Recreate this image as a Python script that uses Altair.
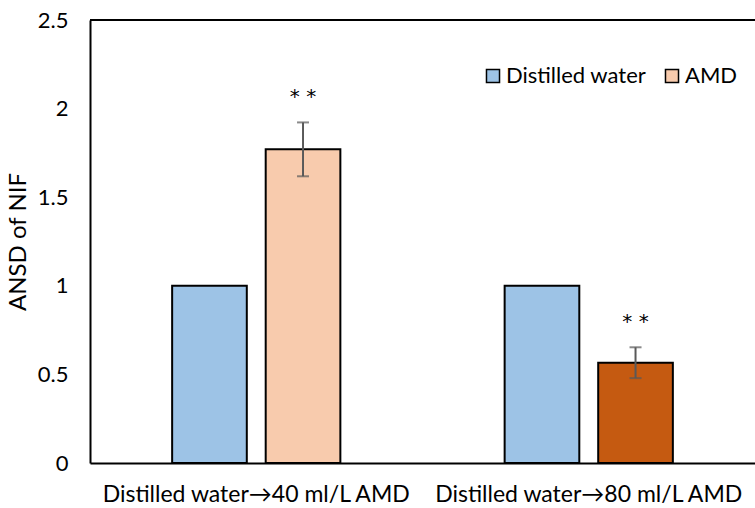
import altair as alt
import pandas as pd

groups = ["Distilled water→40 ml/L AMD", "Distilled water→80 ml/L AMD"]
series = ["Distilled water", "AMD"]
values_dw = [1.0, 1.0]
values_amd = [1.77, 0.566]
err_amd = [0.152, 0.087]
signif = ["*  *", "*  *"]
fill_keys_amd = ["AMD", "AMD 80"]
color_domain = ["Distilled water", "AMD", "AMD 80"]
color_range = ["#9DC3E6", "#F8CBAD", "#C55A11"]
y_ticks = [0, 0.5, 1, 1.5, 2, 2.5]

rows = []
for i, g in enumerate(groups):
    rows.append(dict(group=g, series=series[0], fillkey=series[0],
                     value=values_dw[i], lo=None, hi=None, sig=""))
    rows.append(dict(group=g, series=series[1], fillkey=fill_keys_amd[i],
                     value=values_amd[i], lo=values_amd[i] - err_amd[i],
                     hi=values_amd[i] + err_amd[i], sig=signif[i]))
df = pd.DataFrame(rows)
err_df = df[df["series"] == "AMD"]

FONT = "Lato"
FS = 22

x_enc = alt.X("group:N", sort=groups,
              scale=alt.Scale(paddingInner=0, paddingOuter=0),
              axis=alt.Axis(title=None, labelAngle=0, labelFontSize=23, labelFont=FONT,
                            labelColor="#000000", labelPadding=20, ticks=False, labelLimit=0,
                            domainColor="#000000", domainWidth=2))
xo_enc = alt.XOffset("series:N", sort=series,
                     scale=alt.Scale(paddingInner=0.202, paddingOuter=0.878))
y_scale = alt.Scale(domain=[0, 2.5])
y_axis = alt.Axis(values=y_ticks, format="~g", grid=False, ticks=False, labelPadding=22,
                  labelFontSize=FS, labelFont=FONT, labelColor="#000000",
                  domainColor="#000000", domainWidth=2,
                  titleFontSize=24, titleFont=FONT, titleColor="#000000",
                  titleFontWeight="normal", titlePadding=7)
TITLE = "ANSD of NIF"

bars = alt.Chart(df).mark_bar(stroke="black", strokeWidth=2).encode(
    x=x_enc, xOffset=xo_enc,
    y=alt.Y("value:Q", scale=y_scale, axis=y_axis, title=TITLE),
    color=alt.Color("fillkey:N",
                    scale=alt.Scale(domain=color_domain, range=color_range),
                    legend=alt.Legend(values=series, title=None, orient="none",
                                      legendX=392, legendY=45, direction="horizontal",
                                      symbolType="square", symbolSize=170,
                                      symbolStrokeColor="black", symbolStrokeWidth=1.5,
                                      labelFontSize=FS, labelFont=FONT, labelColor="#000000",
                                      columnPadding=14, labelOffset=2)),
)

err_rule = alt.Chart(err_df).mark_rule(color="#595959", strokeWidth=2).encode(
    x=x_enc, xOffset=xo_enc,
    y=alt.Y("lo:Q", scale=y_scale, axis=y_axis, title=TITLE), y2="hi:Q")
cap_hi = alt.Chart(err_df).mark_tick(orient="horizontal", size=12, thickness=2,
                                     color="#595959").encode(
    x=x_enc, xOffset=xo_enc, y=alt.Y("hi:Q", scale=y_scale, axis=y_axis, title=TITLE))
cap_lo = alt.Chart(err_df).mark_tick(orient="horizontal", size=12, thickness=2,
                                     color="#595959").encode(
    x=x_enc, xOffset=xo_enc, y=alt.Y("lo:Q", scale=y_scale, axis=y_axis, title=TITLE))
stars = alt.Chart(err_df).mark_text(dy=-25, fontSize=20, font="DejaVu Sans",
                                    color="#000000", baseline="middle").encode(
    x=x_enc, xOffset=xo_enc, y=alt.Y("hi:Q", scale=y_scale, axis=y_axis, title=TITLE),
    text="sig:N")
top_line = alt.Chart(df).mark_rule(color="black", strokeWidth=2).encode(
    x=alt.value(0), x2=alt.value(665), y=alt.value(0))

chart = alt.layer(bars, err_rule, cap_hi, cap_lo, stars, top_line).properties(
    width=665, height=443,
    padding={"left": 90, "top": 20, "right": 0, "bottom": 45},
    autosize=alt.AutoSizeParams(type="none"),
).configure_view(stroke=None)

chart.save("out.html", embed_options={"renderer": "svg", "actions": False})
